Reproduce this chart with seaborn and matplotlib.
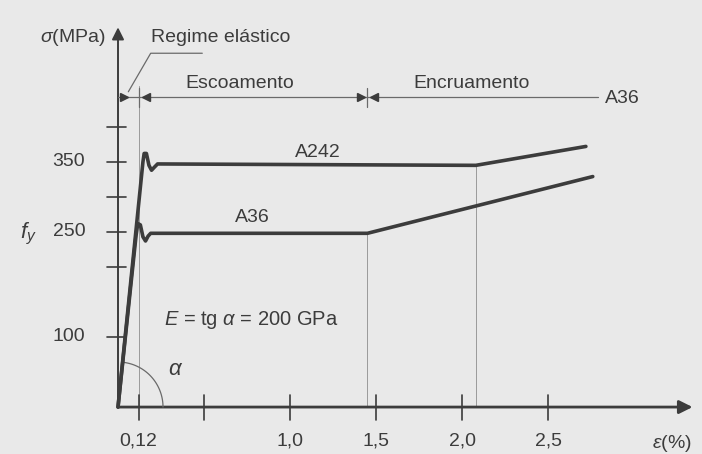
"""
Diagrama tensao-deformacao dos acos A36 e A242 (reproducao do esquema).
"""

import numpy as np
import pandas as pd
import matplotlib
matplotlib.use("Agg")
import matplotlib.pyplot as plt
import seaborn as sns

# Curves (strain in %, stress in MPa)
a242_strain = [0.0, 0.145, 0.152, 0.165, 0.18, 0.195, 0.21, 0.23, 2.08, 2.72]
a242_stress = [0.0, 350, 362, 362, 345, 338, 342, 347, 345, 372]
a36_strain = [0.0, 0.105, 0.115, 0.13, 0.145, 0.16, 0.175, 0.19, 1.45, 2.76]
a36_stress = [0.0, 245, 262, 260, 243, 237, 244, 248, 248, 329]

# Axis ticks
x_ticks = [0.12, 0.5, 1.0, 1.5, 2.0, 2.5]
x_labels = ["0,12", "", "1,0", "1,5", "2,0", "2,5"]
y_ticks = [100, 200, 250, 300, 350, 400]
y_labels = ["100", "", "250", "", "350", ""]

# Region limits (strain %) and level of the dimension line (MPa)
elastic_end = 0.12
yield_end = 1.45
harden_end = 2.79
dim_level = 443

INK = "#3c3c3c"
THIN = "#6a6a6a"
BG = "#e9e9e9"

sns.set_theme(style="white")
plt.rcParams["font.family"] = ["Liberation Sans", "DejaVu Sans"]
plt.rcParams["mathtext.fontset"] = "custom"
plt.rcParams["mathtext.it"] = "Liberation Sans:italic"
plt.rcParams["mathtext.rm"] = "Liberation Sans"

fig = plt.figure(figsize=(7.02, 4.54), dpi=100, facecolor=BG)
ax = fig.add_axes([0, 0, 1, 1])
ax.set_facecolor(BG)
for s in ax.spines.values():
    s.set_visible(False)
ax.set_xticks([])
ax.set_yticks([])
ax.set_xlim(-0.686, 3.395)
ax.set_ylim(-67, 581)

df = pd.concat([
    pd.DataFrame({"strain": a242_strain, "stress": a242_stress, "aco": "A242"}),
    pd.DataFrame({"strain": a36_strain, "stress": a36_stress, "aco": "A36"}),
])
sns.lineplot(data=df, x="strain", y="stress", units="aco", estimator=None,
             sort=False, color=INK, lw=2.6, ax=ax, legend=False, zorder=4)

# drop lines at the end of the yield plateaus
ax.plot([a36_strain[-2]] * 2, [0, a36_stress[-2]], color="#9a9a9a", lw=0.7, zorder=2)
ax.plot([a242_strain[-2]] * 2, [0, a242_stress[-2]], color="#9a9a9a", lw=0.7, zorder=2)
ax.plot([elastic_end] * 2, [0, dim_level + 15], color="#9a9a9a", lw=0.7, zorder=2)

# axes with arrows
ax.annotate("", xy=(3.34, 0), xytext=(0, 0),
            arrowprops=dict(arrowstyle="-|>", lw=2.0, color=INK, mutation_scale=20,
                            shrinkA=0, shrinkB=0), zorder=3)
ax.annotate("", xy=(0, 542), xytext=(0, 0),
            arrowprops=dict(arrowstyle="-|>", lw=1.4, color=INK, mutation_scale=18,
                            shrinkA=0, shrinkB=0), zorder=3)

# ticks crossing the axes
for xt, lab in zip(x_ticks, x_labels):
    ax.plot([xt, xt], [-18, 17], color=INK, lw=1.2, zorder=3)
    if lab:
        ax.text(xt, -48, lab, ha="center", va="center", fontsize=14, color=INK)
for yt, lab in zip(y_ticks, y_labels):
    ax.plot([-0.064, 0.045], [yt, yt], color=INK, lw=1.2, zorder=3)
    if lab:
        ax.text(-0.19, yt, lab, ha="right", va="center", fontsize=14, color=INK)

ax.text(-0.52, 247, r"$f_y$", ha="center", va="center", fontsize=16, color=INK)
ax.text(-0.07, 527, r"$\sigma$(MPa)", ha="right", va="center", fontsize=14, color=INK)
ax.text(3.22, -52, r"$\varepsilon$(%)", ha="center", va="center", fontsize=14, color=INK)

# dimension line for the regions
ax.plot([0, harden_end], [dim_level, dim_level], color=THIN, lw=0.9, zorder=3)
for xb in [elastic_end, yield_end]:
    ax.plot([xb, xb], [dim_level - 15, dim_level + 12], color=THIN, lw=0.9, zorder=3)
ax.plot([0.035], [dim_level], marker=">", ms=6, color=INK, zorder=4)
for xb in [elastic_end, yield_end]:
    ax.plot([xb + 0.04], [dim_level], marker="<", ms=6, color=INK, zorder=4)
ax.plot([yield_end - 0.04], [dim_level], marker=">", ms=6, color=INK, zorder=4)

# leader for the elastic region
ax.plot([0.06, 0.19, 0.49], [dim_level + 7, 505, 505], color=THIN, lw=0.9, zorder=3)
ax.text(0.19, 527, "Regime elástico", ha="left", va="center", fontsize=14, color=INK)
ax.text(0.39, 462, "Escoamento", ha="left", va="center", fontsize=14, color=INK)
ax.text(1.715, 462, "Encruamento", ha="left", va="center", fontsize=14, color=INK)
ax.text(2.83, dim_level - 2, "A36", ha="left", va="center", fontsize=14, color=INK)

ax.text(1.03, 364, "A242", ha="left", va="center", fontsize=14, color=INK)
ax.text(0.68, 270, "A36", ha="left", va="center", fontsize=14, color=INK)
ax.text(0.27, 124, r"$E$ = tg $\alpha$ = 200 GPa", ha="left", va="center",
        fontsize=14.5, color=INK)
ax.text(0.29, 54, r"$\alpha$", ha="left", va="center", fontsize=16, color=INK)

# angle arc between the x axis and the elastic line (circle in pixels)
r_px = 45
ang = np.arctan2(a36_stress[1] * 0.7, a36_strain[1] * 172)
t = np.linspace(0, ang, 40)
ax.plot(r_px * np.cos(t) / 172, r_px * np.sin(t) / 0.7, color=THIN, lw=0.9, zorder=3)

fig.savefig("out.png", dpi=100, facecolor=BG)
